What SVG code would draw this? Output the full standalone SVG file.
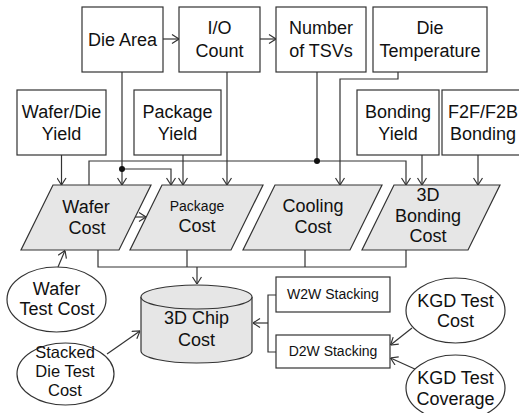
<svg xmlns="http://www.w3.org/2000/svg" width="519" height="413" viewBox="0 0 519 413">
<style>
.box{fill:#fff;stroke:#333;stroke-width:1.2}
.pg{fill:#e6e6e6;stroke:#333;stroke-width:1.2}
.el{fill:#fff;stroke:#333;stroke-width:1.2}
.t{font-family:"Liberation Sans",Arial,sans-serif;font-size:18px;fill:#111;text-anchor:middle}
.s{font-size:14px}
.c{fill:none;stroke:#333;stroke-width:1.2}
.a{marker-end:url(#arr)}
</style>
<defs>
<marker id="arr" viewBox="0 0 10 10" refX="10" refY="5" markerWidth="10" markerHeight="10" markerUnits="userSpaceOnUse" orient="auto">
<path d="M3,0.5 L10,5 L3,9.5" fill="none" stroke="#333" stroke-width="1.2"/>
</marker>
</defs>
<g id="connectors">
<path class="c a" d="M163,39 H179"/>
<path class="c a" d="M260,39 H276"/>
<path class="c a" d="M122,72 V185"/>
<path class="c a" d="M122,169 H171 V185"/>
<path class="c" d="M317,72 V161"/>
<path class="c a" d="M89,185 V161 H406 V185"/>
<path class="c a" d="M398,72 V79 H340 V185"/>
<path class="c a" d="M227,72 V185"/>
<path class="c a" d="M61.5,155 V185"/>
<path class="c a" d="M183,155 V185"/>
<path class="c a" d="M422,155 V185"/>
<path class="c a" d="M478,155 V185"/>
<path class="c a" d="M135,217 H146"/>
<path class="c" d="M98,250 V267 H406 V250 M187,250 V267 M305,250 V267"/>
<path class="c a" d="M197,267 V284"/>
<path class="c a" d="M58,267 L65,250.5"/>
<path class="c a" d="M107,354 L140,331"/>
<path class="c" d="M276,295 H268 V352 H276"/>
<path class="c a" d="M268,323 H253"/>
<path class="c a" d="M412,328 L390.5,345"/>
<path class="c a" d="M417,370 L390.5,358"/>
<circle cx="122" cy="169" r="3" fill="#111"/>
<circle cx="317" cy="161" r="3" fill="#111"/>
</g>
<g id="die-area"><rect class="box" x="82" y="7" width="81" height="65"/><text class="t" x="122.5" y="46">Die Area</text></g>
<g id="io-count"><rect class="box" x="179" y="7" width="81" height="65"/><text class="t" x="219.5" y="34">I/O</text><text class="t" x="219.5" y="57">Count</text></g>
<g id="num-tsvs"><rect class="box" x="276" y="7" width="90" height="65"/><text class="t" x="321" y="34">Number</text><text class="t" x="321" y="57">of TSVs</text></g>
<g id="die-temp"><rect class="box" x="373" y="7" width="114" height="65"/><text class="t" x="430" y="34">Die</text><text class="t" x="430" y="57">Temperature</text></g>
<g id="wafer-die-yield"><rect class="box" x="17" y="90" width="89" height="65"/><text class="t" x="61.5" y="118">Wafer/Die</text><text class="t" x="61.5" y="140">Yield</text></g>
<g id="package-yield"><rect class="box" x="134" y="90" width="87" height="65"/><text class="t" x="177.5" y="118">Package</text><text class="t" x="177.5" y="140">Yield</text></g>
<g id="bonding-yield"><rect class="box" x="357" y="90" width="82" height="65"/><text class="t" x="398" y="118">Bonding</text><text class="t" x="398" y="140">Yield</text></g>
<g id="f2f-bonding"><rect class="box" x="442" y="90" width="83" height="65"/><text class="t" x="483" y="118">F2F/F2B</text><text class="t" x="483" y="140">Bonding</text></g>
<g id="wafer-cost"><polygon class="pg" points="53,185 151,185 119,250 21,250"/><text class="t" x="86" y="213">Wafer</text><text class="t" x="87" y="234">Cost</text></g>
<g id="package-cost"><polygon class="pg" points="162,185 263,185 231,250 130,250"/><text class="t s" x="197" y="211">Package</text><text class="t" x="197" y="232">Cost</text></g>
<g id="cooling-cost"><polygon class="pg" points="275,185 382,185 350,250 243,250"/><text class="t" x="313" y="212">Cooling</text><text class="t" x="313" y="233">Cost</text></g>
<g id="bonding-cost"><polygon class="pg" points="394,185 500,185 468,250 362,250"/><text class="t" x="428" y="201">3D</text><text class="t" x="428" y="222">Bonding</text><text class="t" x="428" y="242">Cost</text></g>
<g id="wafer-test-cost"><ellipse class="el" cx="56.5" cy="299.5" rx="49.5" ry="32.5"/><text class="t" x="56.5" y="295">Wafer</text><text class="t" x="57" y="315">Test Cost</text></g>
<g id="chip-cost"><path class="pg" d="M141,297 V351 A55.5,12 0 0 0 252,351 V297"/><ellipse class="pg" cx="196.5" cy="297" rx="55.5" ry="12"/><text class="t" x="196.5" y="324">3D Chip</text><text class="t" x="196.5" y="346">Cost</text></g>
<g id="stacked-die-test-cost"><ellipse class="el" cx="65.5" cy="374" rx="48.5" ry="31"/><text class="t" x="65" y="358" style="font-size:16.5px">Stacked</text><text class="t" x="65" y="377" style="font-size:16.5px">Die Test</text><text class="t" x="65" y="396" style="font-size:16.5px">Cost</text></g>
<g id="w2w"><rect class="box" x="276" y="277" width="114" height="35"/><text class="t s" x="333" y="299">W2W Stacking</text></g>
<g id="d2w"><rect class="box" x="276" y="335" width="114" height="33"/><text class="t s" x="333" y="356">D2W Stacking</text></g>
<g id="kgd-test-cost"><ellipse class="el" cx="455.5" cy="310.5" rx="49.5" ry="32.5"/><text class="t" x="455.5" y="307">KGD Test</text><text class="t" x="455.5" y="327">Cost</text></g>
<g id="kgd-test-coverage"><ellipse class="el" cx="455.5" cy="388" rx="49.5" ry="33"/><text class="t" x="455.5" y="384">KGD Test</text><text class="t" x="455.5" y="405">Coverage</text></g>
</svg>
